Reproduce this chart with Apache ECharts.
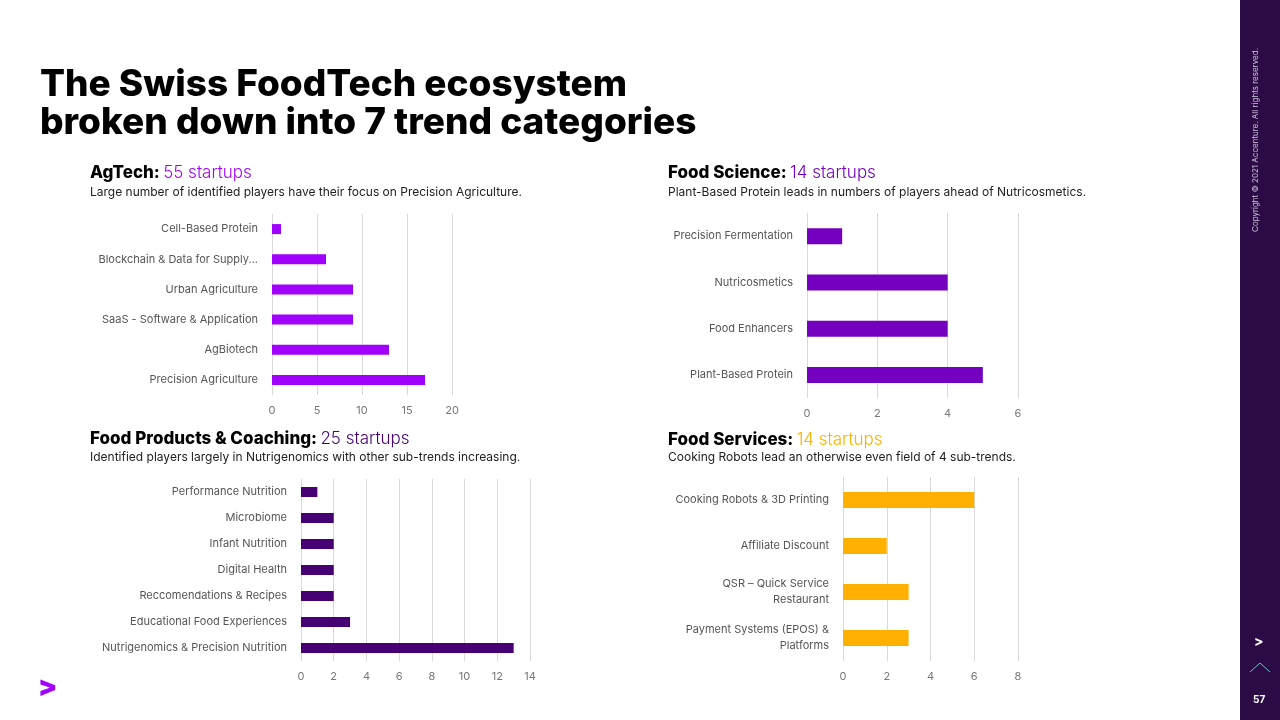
<!DOCTYPE html>
<html><head><meta charset="utf-8">
<script src="https://cdn.jsdelivr.net/npm/echarts@6/dist/echarts.min.js"></script>
<style>html,body{margin:0;padding:0;background:#fff}#c{width:1280px;height:720px}</style>
</head><body><div id="c"></div>
<script>
// data
var agCats = ['Cell-Based Protein', 'Blockchain & Data for Supply...', 'Urban Agriculture', 'SaaS - Software & Application', 'AgBiotech', 'Precision Agriculture'];
var agVals = [1, 6, 9, 9, 13, 17];
var sciCats = ['Precision Fermentation', 'Nutricosmetics', 'Food Enhancers', 'Plant-Based Protein'];
var sciVals = [1, 4, 4, 5];
var prodCats = ['Performance Nutrition', 'Microbiome', 'Infant Nutrition', 'Digital Health', 'Reccomendations & Recipes', 'Educational Food Experiences', 'Nutrigenomics & Precision Nutrition'];
var prodVals = [1, 2, 2, 2, 2, 3, 13];
var servCats = ['Cooking Robots & 3D Printing', 'Affiliate Discount', 'QSR – Quick Service\nRestaurant', 'Payment Systems (EPOS) &\nPlatforms'];
var servVals = [6, 2, 3, 3];

var font = 'Inter, "Noto Sans", sans-serif';
var grids = [
  {left: 272, width: 180, top: 214, height: 181, max: 20, interval: 5, cats: agCats, vals: agVals, color: '#a100ff', bw: 10},
  {left: 807, width: 211, top: 213, height: 185, max: 6, interval: 2, cats: sciCats, vals: sciVals, color: '#7500c0', bw: 16},
  {left: 301, width: 229, top: 479, height: 182, max: 14, interval: 2, cats: prodCats, vals: prodVals, color: '#460073', bw: 10},
  {left: 843, width: 175, top: 477, height: 184, max: 8, interval: 2, cats: servCats, vals: servVals, color: '#ffb000', bw: 16}
];

var chart = echarts.init(document.getElementById('c'));
var option = {
  animation: false,
  grid: [], xAxis: [], yAxis: [], series: [],
  graphic: [
    {type: 'text', left: 40, top: 66, style: {text: 'The Swiss FoodTech ecosystem\nbroken down into 7 trend categories', font: '800 37px ' + font, fill: '#000', lineHeight: 38}},
    {type: 'text', left: 90, top: 164, style: {text: '{b|AgTech:} {p|55 startups}', rich: {b: {font: '800 17px ' + font, fill: '#000'}, p: {font: '300 17px ' + font, fill: '#a100ff'}}}},
    {type: 'text', left: 90, top: 186, style: {text: 'Large number of identified players have their focus on Precision Agriculture.', font: '12px ' + font, fill: '#222'}},
    {type: 'text', left: 668, top: 164, style: {text: '{b|Food Science:} {p|14 startups}', rich: {b: {font: '800 17px ' + font, fill: '#000'}, p: {font: '300 17px ' + font, fill: '#7500c0'}}}},
    {type: 'text', left: 668, top: 186, style: {text: 'Plant-Based Protein leads in numbers of players ahead of Nutricosmetics.', font: '12px ' + font, fill: '#222'}},
    {type: 'text', left: 90, top: 430, style: {text: '{b|Food Products & Coaching:} {p|25 startups}', rich: {b: {font: '800 17px ' + font, fill: '#000'}, p: {font: '300 17px ' + font, fill: '#460073'}}}},
    {type: 'text', left: 90, top: 451, style: {text: 'Identified players largely in Nutrigenomics with other sub-trends increasing.', font: '12px ' + font, fill: '#222'}},
    {type: 'text', left: 668, top: 431, style: {text: '{b|Food Services:} {p|14 startups}', rich: {b: {font: '800 17px ' + font, fill: '#000'}, p: {font: '300 17px ' + font, fill: '#ffb000'}}}},
    {type: 'text', left: 668, top: 451, style: {text: 'Cooking Robots lead an otherwise even field of 4 sub-trends.', font: '12px ' + font, fill: '#222'}},
    {type: 'rect', shape: {x: 1240, y: 0, width: 40, height: 720}, style: {fill: '#2b0a46'}},
    {type: 'text', x: 1256, y: 232, rotation: Math.PI / 2, style: {text: 'Copyright © 2021 Accenture. All rights reserved.', font: '8px ' + font, fill: '#cfc4dd', align: 'left', verticalAlign: 'middle'}},
    {type: 'text', left: 1254, top: 635, style: {text: '>', font: 'bold 14px ' + font, fill: '#fff'}},
    {type: 'polyline', shape: {points: [[1250, 672], [1260, 663], [1270, 672]]}, style: {stroke: '#5fc8c0', fill: null, lineWidth: 1}},
    {type: 'text', left: 1253, top: 695, style: {text: '57', font: 'bold 10px ' + font, fill: '#fff'}},
    {type: 'text', left: 38, top: 674, style: {text: '>', font: '900 28px ' + font, fill: '#a100ff'}}
  ]
};
grids.forEach(function (g, i) {
  option.grid.push({left: g.left, width: g.width, top: g.top, height: g.height});
  option.xAxis.push({gridIndex: i, type: 'value', min: 0, max: g.max, interval: g.interval,
    axisLine: {show: false}, axisTick: {show: false},
    axisLabel: {color: '#777', fontFamily: font, fontSize: 11, margin: 10},
    splitLine: {lineStyle: {color: '#d9d9d9'}}});
  option.yAxis.push({gridIndex: i, type: 'category', inverse: true, data: g.cats,
    axisLine: {show: false}, axisTick: {show: false},
    axisLabel: {color: '#555', fontFamily: font, fontSize: 11, margin: 14, align: 'right', lineHeight: 16}});
  option.series.push({type: 'bar', xAxisIndex: i, yAxisIndex: i, data: g.vals, barWidth: g.bw,
    itemStyle: {color: g.color}});
});
chart.setOption(option);
</script>
</body></html>
